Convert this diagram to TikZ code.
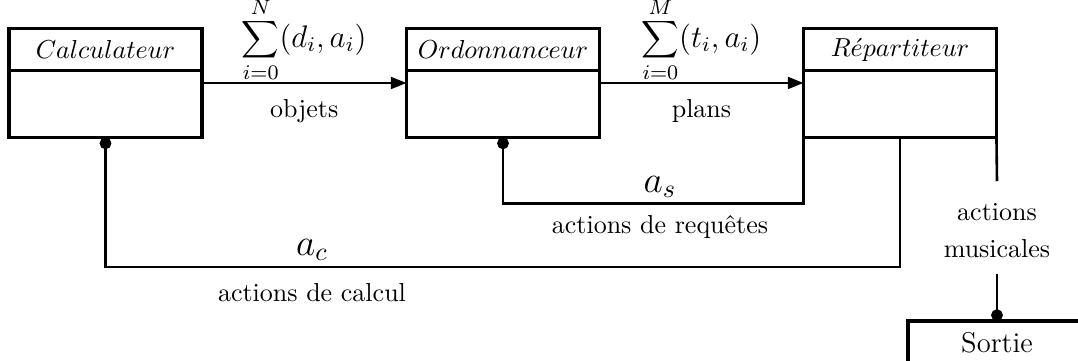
\documentclass[tikz,border=0pt]{standalone}
\usetikzlibrary{arrows.meta,positioning}
\begin{document}
\begin{tikzpicture}[x=0.3846pt,y=-0.3846pt,
  boxline/.style={line width=1.2pt},
  divline/.style={line width=0.8pt},
  conn/.style={line width=1pt},
  titlebox/.style={draw=none,minimum width=74.2pt,minimum height=16.15pt,inner sep=0pt,outer sep=0pt,font=\fontsize{10.4}{12}\selectfont},
  bodybox/.style={draw=none,minimum width=74.2pt,minimum height=25.77pt,inner sep=0pt,outer sep=0pt},
  arr/.style={conn,-{Triangle[length=6pt,width=4.5pt]}},
  dotline/.style={conn,-{Circle[length=4.5pt]}},
  lbl/.style={inner sep=0pt},
  sumlbl/.style={inner sep=0pt,font=\fontsize{10.8}{12}\selectfont}]
\useasboundingbox (0,0) rectangle (1078,360);
\clip (0,0) rectangle (1078,360);
% boxes
\node[titlebox] (calcT) at (105.5,49.5) {$Calculateur$};
\node[bodybox] (calcB) at (105.5,104) {};
\node[titlebox] (ordT) at (503,49.5) {$Ordonnanceur$};
\node[bodybox] (ordB) at (503,104) {};
\node[titlebox] (repT) at (900,49.5) {$R\acute{e}partiteur$};
\node[bodybox] (repB) at (900,104) {};
\node[draw,boxline,minimum width=68.5pt,minimum height=16.9pt,inner sep=0pt,outer sep=0pt,font=\fontsize{11}{13}\selectfont] (sortie) at (997,343) {Sortie};
\draw[boxline] (calcT.north west) rectangle (calcB.south east);
\draw[divline] (calcT.south west) -- (calcT.south east);
\draw[boxline] (ordT.north west) rectangle (ordB.south east);
\draw[divline] (ordT.south west) -- (ordT.south east);
\draw[boxline] (repT.north west) rectangle (repB.south east);
\draw[divline] (repT.south west) -- (repT.south east);
% forward arrows
\draw[arr] ([yshift=-4.8pt]calcB.north east) -- ([yshift=-4.8pt]ordB.north west)
  node[midway,above=0pt,sumlbl] (sum1) {$\displaystyle\sum_{i=0}^{N}$\fontsize{11.5}{13}\selectfont$(d_i,a_i)$}
  node[midway,below=6pt,lbl] (obj) {objets};
\draw[arr] ([yshift=-4.8pt]ordB.north east) -- ([yshift=-4.8pt]repB.north west)
  node[midway,above=0pt,sumlbl] (sum2) {$\displaystyle\sum_{i=0}^{M}$\fontsize{11.5}{13}\selectfont$(t_i,a_i)$}
  node[midway,below=6pt,lbl] (pla) {plans};
% feedback
\draw[dotline] (repB.south west) -- ++(0,66) -| (ordB.south);
\node[lbl,font=\Large] (as) at (660,187) {$a_s$};
\node[lbl] (req) at (660,227) {actions de requêtes};
\draw[dotline] (repB.south) -- ++(0,129.5) -| (calcB.south);
\node[lbl,font=\Large] (ac) at (312,250) {$a_c$};
\node[lbl] (cal) at (312,293) {actions de calcul};
% musical actions
\node[align=center,inner sep=0pt] (mus) at (997,231) {actions\\[2.2pt]musicales};
\draw[conn] (repB.south east) -- ([yshift=8.5pt]mus.north);
\draw[dotline] ([yshift=-5.8pt]mus.south) -- (sortie.north);
\end{tikzpicture}
\end{document}
